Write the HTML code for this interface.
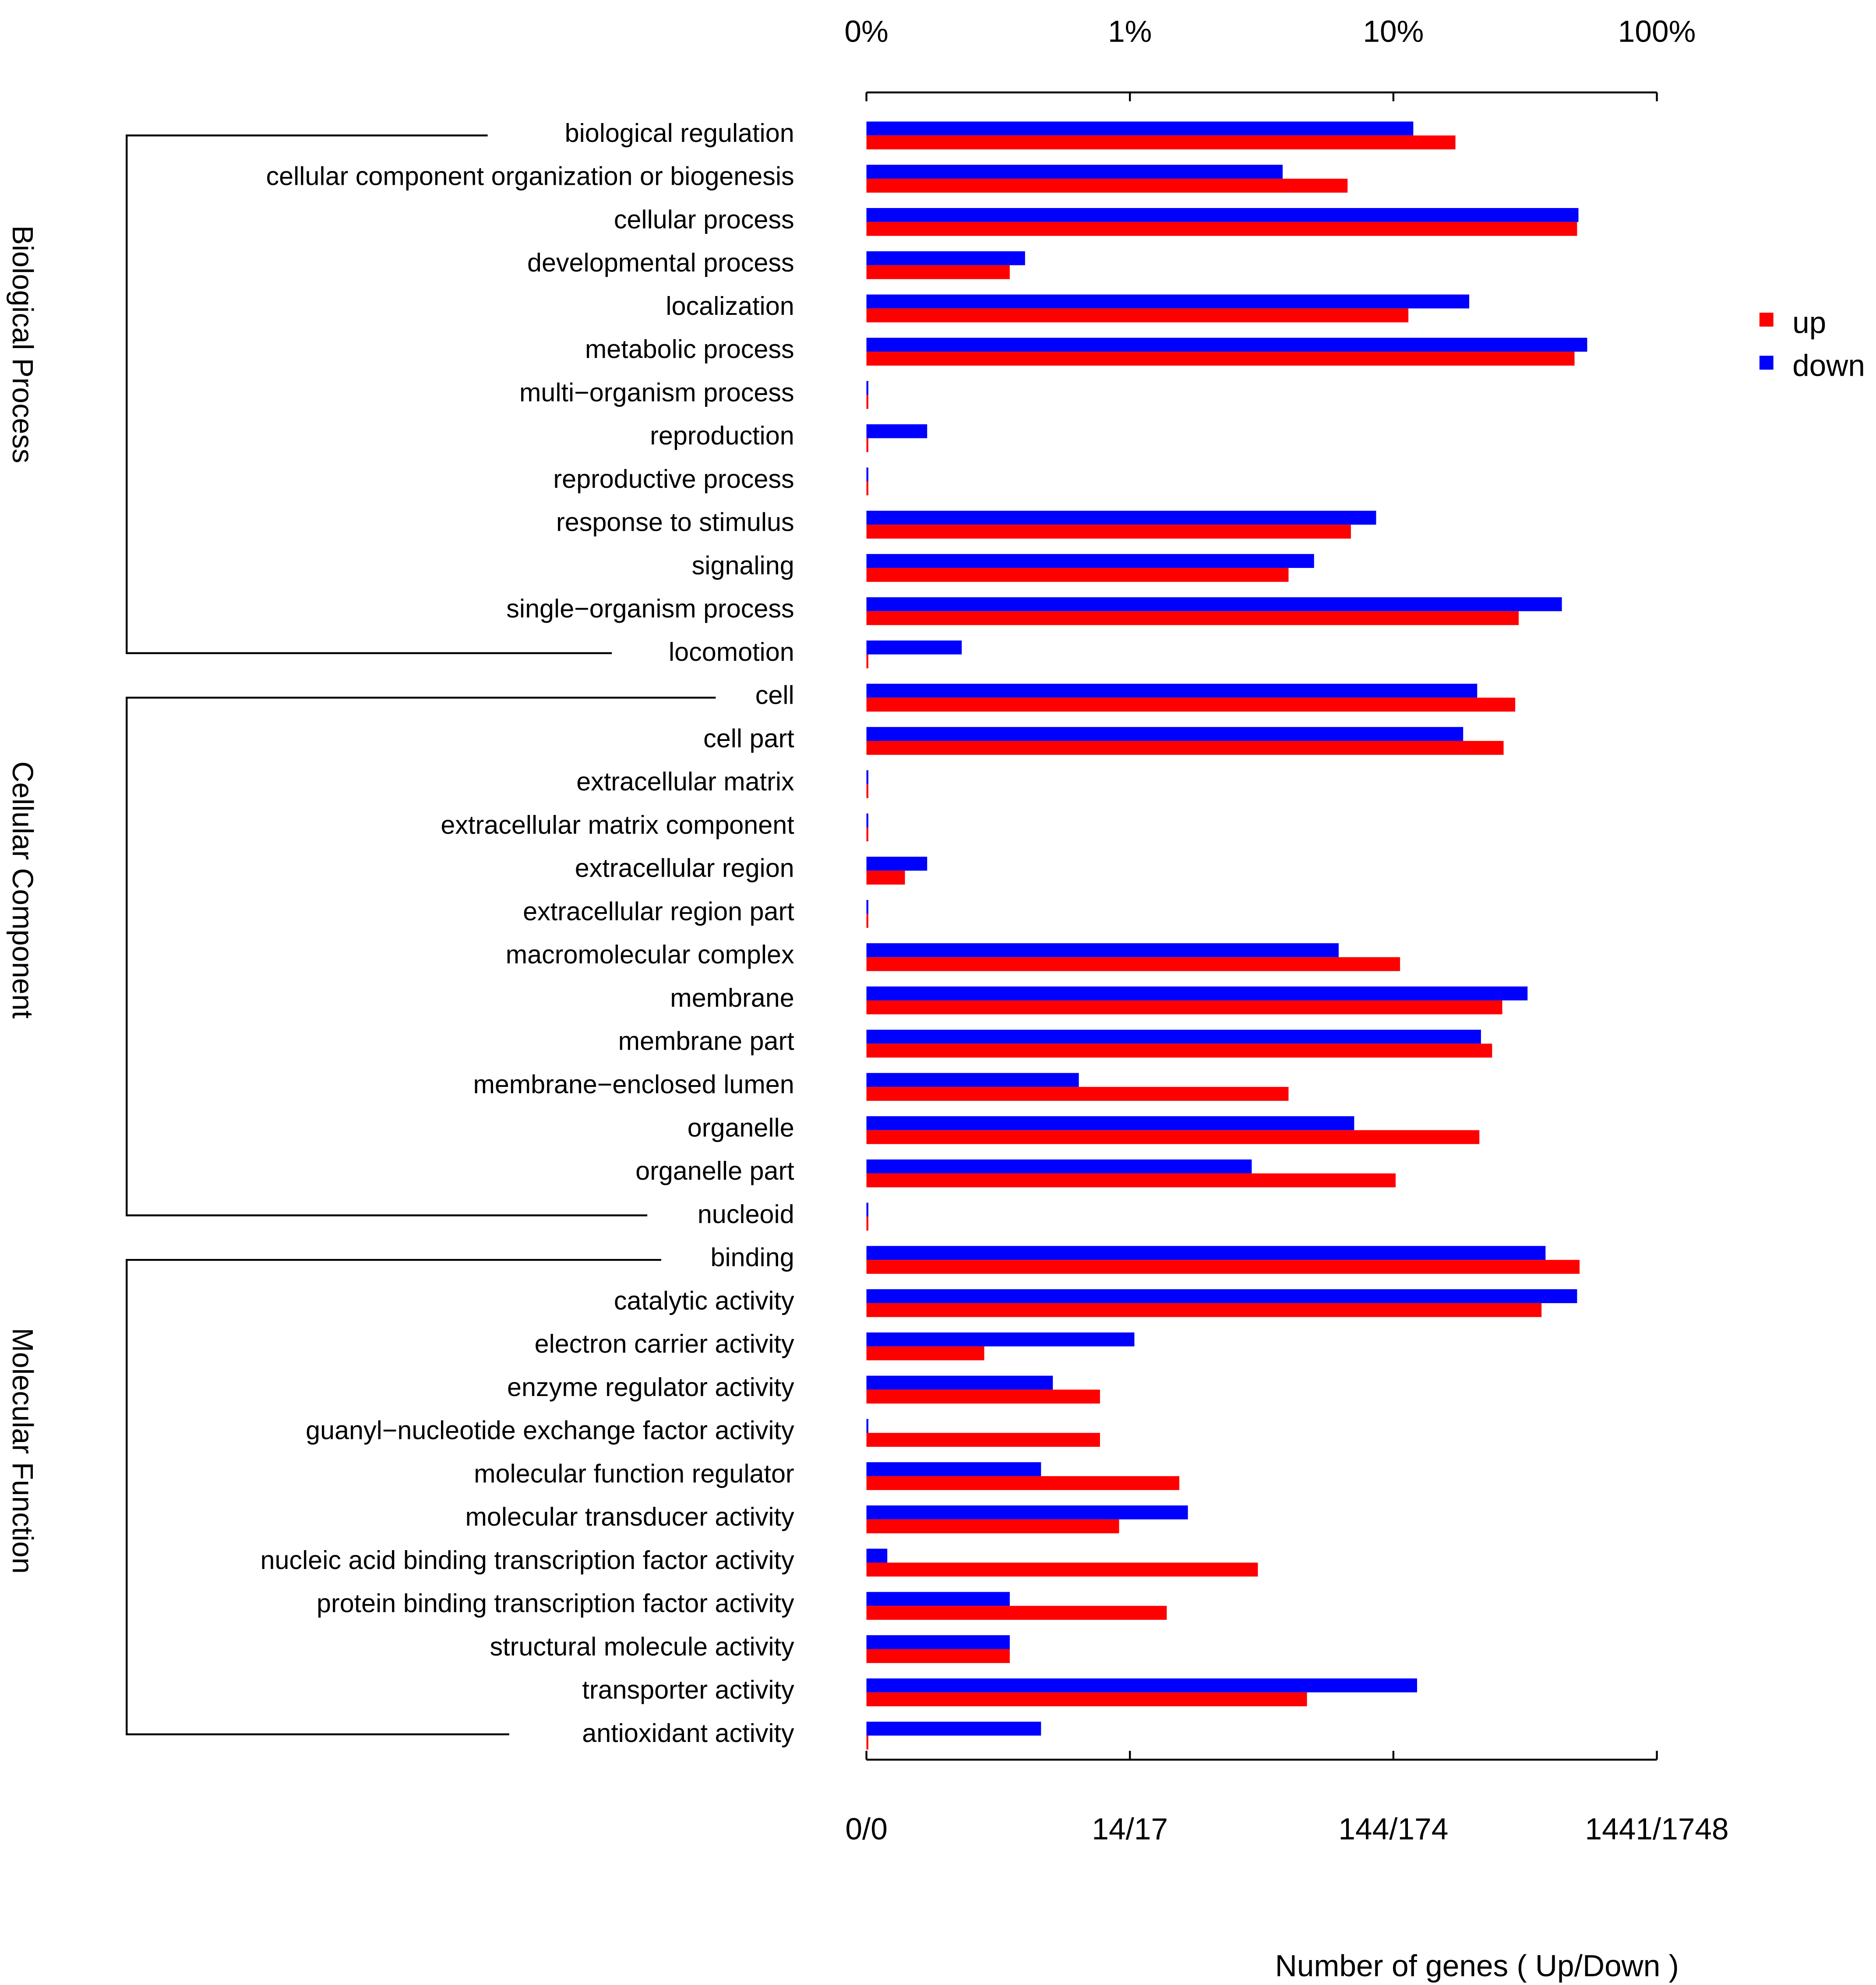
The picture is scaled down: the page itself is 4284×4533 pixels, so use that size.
<!DOCTYPE html>
<html><head><meta charset="utf-8"><style>
html,body{margin:0;padding:0;background:#fff;}
svg{display:block;}
text{font-family:"Liberation Sans",Arial,sans-serif;fill:#000;}
</style></head><body>
<svg id="chart" width="4284" height="4533" viewBox="0 0 1481 1568" preserveAspectRatio="none" xmlns="http://www.w3.org/2000/svg">
<g id="axes"></g><g id="bars"></g><g id="labels"></g><g id="brackets"></g>
<g>
<rect x="1389" y="247" width="11" height="11" fill="#ff0000"/>
<text x="1415" y="263" font-size="24">up</text>
<rect x="1389" y="281" width="11" height="11" fill="#0000ff"/>
<text x="1415" y="297" font-size="24">down</text>
</g>
<text x="1166" y="1561" font-size="24" text-anchor="middle">Number of genes ( Up/Down )</text>
</svg>
<script>
const categories = ["biological regulation","cellular component organization or biogenesis","cellular process","developmental process","localization","metabolic process","multi\u2212organism process","reproduction","reproductive process","response to stimulus","signaling","single\u2212organism process","locomotion","cell","cell part","extracellular matrix","extracellular matrix component","extracellular region","extracellular region part","macromolecular complex","membrane","membrane part","membrane\u2212enclosed lumen","organelle","organelle part","nucleoid","binding","catalytic activity","electron carrier activity","enzyme regulator activity","guanyl\u2212nucleotide exchange factor activity","molecular function regulator","molecular transducer activity","nucleic acid binding transcription factor activity","protein binding transcription factor activity","structural molecule activity","transporter activity","antioxidant activity"];
const downPct = [11.9,3.8,50.4,0.40,19.4,54.4,0,0.17,0,8.6,5.0,43.6,0.23,20.8,18.4,0,0,0.17,0,6.2,32.3,21.5,0.64,7.1,2.9,0,37.8,49.8,1.04,0.51,0,0.46,1.66,0.12,0.35,0.35,12.3,0.46];
const upPct = [17.2,6.7,49.8,0.35,11.4,48.7,0,0,0,6.9,4.0,29.9,0,29.0,26.2,0,0,0.14,0,10.6,25.9,23.7,4.0,21.2,10.2,0,50.9,36.5,0.28,0.77,0.77,1.54,0.91,3.06,1.38,0.35,4.7,0];
const topTicks = ["0%","1%","10%","100%"];
const bottomTicks = ["0/0","14/17","144/174","1441/1748"];
const groups = [
 {name:"Biological Process", start:0, end:12, topX:385, botX:483, labelY:272},
 {name:"Cellular Component", start:13, end:25, topX:565, botX:511, labelY:703},
 {name:"Molecular Function", start:26, end:37, topX:522, botX:402, labelY:1146}
];
const NS="http://www.w3.org/2000/svg";
const X0=684, DEC=208;
function xScale(p){ if(p<=0.1) return X0; return X0+DEC*(Math.log10(p)+1); }
function yRow(i){ return 105+i*(1369-105)/(categories.length-1); }
function mk(tag,attrs,parent,txt){const e=document.createElementNS(NS,tag);for(const k in attrs)e.setAttribute(k,attrs[k]);if(txt!==undefined)e.textContent=txt;parent.appendChild(e);return e;}
const axes=document.getElementById('axes'),bars=document.getElementById('bars'),labels=document.getElementById('labels'),br=document.getElementById('brackets');
let l=mk('line',{x1:X0,x2:X0+3*DEC,y1:73,y2:73,stroke:'#000','stroke-width':1.5},axes);


l=mk('line',{x1:X0,x2:X0+3*DEC,y1:1390,y2:1390,stroke:'#000','stroke-width':1.5},axes);


topTicks.forEach((t,i)=>{const x=X0+i*DEC;
 let a=mk('line',{x1:x,x2:x,y1:73,y2:80,stroke:'#000','stroke-width':1.5},axes);
 
 
 let b=mk('line',{x1:x,x2:x,y1:1383,y2:1390,stroke:'#000','stroke-width':1.5},axes);
 
 
 let tt=mk('text',{x:x,y:33,'font-size':24,'text-anchor':'middle'},axes,t);
 
 
 let bt=mk('text',{x:x,y:1453,'font-size':24,'text-anchor':'middle'},axes,bottomTicks[i]);
 
 
});
categories.forEach((c,i)=>{const y=yRow(i);
 let t=mk('text',{x:627,y:y+7,'font-size':20.5,'text-anchor':'end'},labels,c);
 
 
 const bw=Math.max(xScale(downPct[i])-X0,1.5), rw=Math.max(xScale(upPct[i])-X0,1.5);
 let b=mk('rect',{x:X0,y:y-9,width:bw,height:11,fill:'#0000ff'},bars);
 
 
 let r=mk('rect',{x:X0,y:y+2,width:rw,height:11,fill:'#ff0000'},bars);
 
 
});
groups.forEach(g=>{const y1=yRow(g.start)+2,y2=yRow(g.end)+1;
 let p=mk('path',{d:`M${g.topX},${y1} H100 V${y2} H${g.botX}`,fill:'none',stroke:'#000','stroke-width':1.5},br);
 
 
 const cy=g.labelY;
 let t=mk('text',{x:10,y:cy,'font-size':23,'text-anchor':'middle',transform:`rotate(90 10 ${cy})`},br,g.name);
 
 
});
</script>
</body></html>
